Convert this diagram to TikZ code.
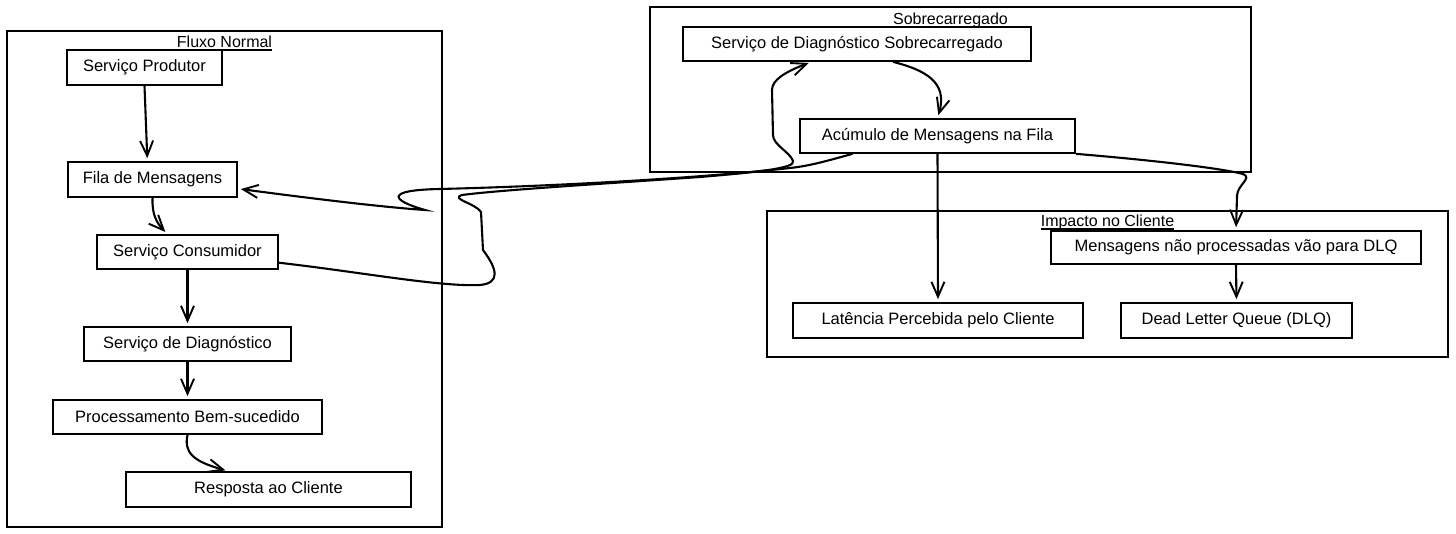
\documentclass[tikz,border=0pt]{standalone}
\usepackage{fontspec}
\setmainfont{Liberation Sans}
\usetikzlibrary{arrows.meta,calc}

\tikzset{
	box/.style={draw, line width=1.7pt, inner sep=0pt, font=\fontsize{16.5}{18}\selectfont},
	frame/.style={draw, line width=1.7pt, inner sep=0pt},
	title/.style={inner sep=0pt, anchor=base, font=\fontsize{16}{18}\selectfont},
	uline/.style={line width=1.4pt},
	conn/.style={line width=2.1pt, shorten >=3pt, -{Straight Barb[length=15pt,width=13pt,line width=1.9pt]}},
}

\begin{document}
\begin{tikzpicture}[x=1pt, y=-1pt]
		\useasboundingbox (0,0) rectangle (1456,534);
		
			\node[frame, minimum width=435pt, minimum height=496pt] (fluxo) at (224.5,279) {};
			\node[frame, minimum width=601pt, minimum height=165pt] (sobre) at (950.5,89.5) {};
			\node[frame, minimum width=681pt, minimum height=146pt] (impacto) at (1107.5,284) {};
			
			\node[title] (tfluxo) at (224.5,48) {Fluxo Normal};
			\node[title] (tsobre) at (950.5,25) {Sobrecarregado};
			\node[title] (timpacto) at (1107.5,227) {Impacto no Cliente};
			\foreach \t in {tfluxo, tsobre, timpacto}
				\draw[uline] ($(\t.base west)+(0,2)$) -- ($(\t.base east)+(0,2)$);
		
			\node[box, minimum width=155pt, minimum height=35pt] (prod) at (144.5,67.5) {Serviço Produtor};
			\node[box, minimum width=169pt, minimum height=35pt] (fila) at (152.5,179.5) {Fila de Mensagens};
			\node[box, minimum width=181pt, minimum height=34pt] (cons) at (187.5,252) {Serviço Consumidor};
			\node[box, minimum width=207pt, minimum height=34pt] (diag) at (187.5,344) {Serviço de Diagnóstico};
			\node[box, minimum width=269pt, minimum height=34pt] (proc) at (187.5,417) {Processamento Bem-sucedido};
			\node[box, minimum width=285pt, minimum height=35pt] (resp) at (268.5,489.5) {Resposta ao Cliente};
			
			\node[box, minimum width=348pt, minimum height=34pt] (sob) at (857,44) {Serviço de Diagnóstico Sobrecarregado};
			\node[box, minimum width=275pt, minimum height=34pt] (acu) at (937.5,136) {Acúmulo de Mensagens na Fila};
			
			\node[box, minimum width=370pt, minimum height=33pt] (msg) at (1236,247.5) {Mensagens não processadas vão para DLQ};
			\node[box, minimum width=290pt, minimum height=35pt] (lat) at (938,320.5) {Latência Percebida pelo Cliente};
			\node[box, minimum width=231pt, minimum height=35pt] (dlq) at (1236.5,320.5) {Dead Letter Queue (DLQ)};
		
			\draw[conn] (prod.south) -- ($(fila.north west)!0.47!(fila.north east)$);
			\draw[conn] (fila.south) .. controls (152,214) and (156,222) .. ($(cons.north west)!0.39!(cons.north east)$);
			\draw[conn] (cons.south) -- (diag.north);
			\draw[conn] (diag.south) -- (proc.north);
			\draw[conn] (proc.south) .. controls (184,452) and (192,461) .. ($(resp.north west)!0.36!(resp.north east)$);
			
			\draw[conn] ($(sob.south west)!0.603!(sob.south east)$) .. controls (925,70) and (948,82) .. (acu.north);
			\draw[conn] (acu.south) -- (lat.north);
			\draw[conn] (acu.south east) .. controls (1150,160) and (1220,168) .. (1243,174)
				.. controls (1253,178) and (1237,185) .. (1237,196) -- (msg.north);
			\draw[conn] (msg.south) -- (dlq.north);
			
			\draw[conn] ($(acu.south west)!0.193!(acu.south east)$) .. controls (830,160) and (810,166) .. (790,168)
				.. controls (700,178) and (560,186) .. (440,189)
				.. controls (385,190) and (390,200) .. (425,210)
				.. controls (380,207) and (300,197) .. ($(fila.south east)!0.25!(fila.north east)$);
			\draw[conn] ($(cons.south east)!0.2!(cons.north east)$) .. controls (360,272) and (440,287) .. (480,285)
				.. controls (500,283) and (498,270) .. (483,250) -- (481,212)
				.. controls (475,203) and (450,199) .. (462,195)
				.. controls (500,190) and (600,184) .. (700,177)
				.. controls (760,172) and (796,168) .. (793,161)
				.. controls (790,152) and (773,145) .. (773,135) -- (772,90)
				.. controls (772,80) and (785,72) .. ($(sob.south west)!0.37!(sob.south east)$);
		
	\end{tikzpicture}
\end{document}
